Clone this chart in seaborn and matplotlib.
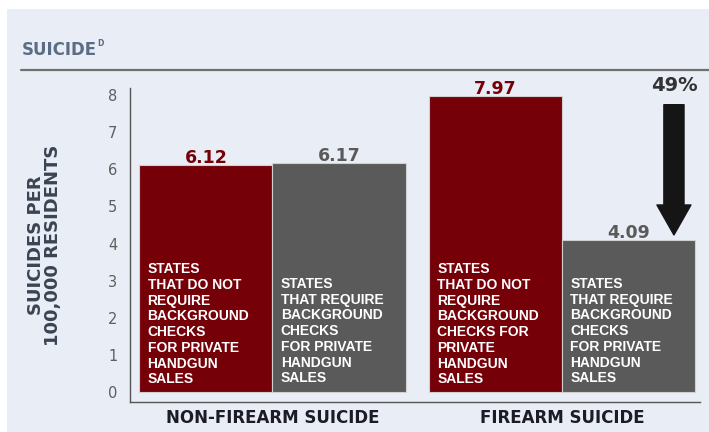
import matplotlib
matplotlib.use("Agg")
import matplotlib.pyplot as plt
import pandas as pd
import seaborn as sns
from matplotlib.patches import Rectangle

# Data
groups = ["NON-FIREARM SUICIDE", "FIREARM SUICIDE"]
policies = ["no_check", "check"]
values_no_check = [6.12, 7.97]
values_check = [6.17, 4.09]
value_labels = ["6.12", "6.17", "7.97", "4.09"]
bar_texts = [
    "STATES\nTHAT DO NOT\nREQUIRE\nBACKGROUND\nCHECKS\nFOR PRIVATE\nHANDGUN\nSALES",
    "STATES\nTHAT REQUIRE\nBACKGROUND\nCHECKS\nFOR PRIVATE\nHANDGUN\nSALES",
    "STATES\nTHAT DO NOT\nREQUIRE\nBACKGROUND\nCHECKS FOR\nPRIVATE\nHANDGUN\nSALES",
    "STATES\nTHAT REQUIRE\nBACKGROUND\nCHECKS\nFOR PRIVATE\nHANDGUN\nSALES",
]
drop_label = "49%"

df = pd.DataFrame({
    "group": groups * 2,
    "policy": [policies[0]] * 2 + [policies[1]] * 2,
    "value": values_no_check + values_check,
})

red = "#760007"
gray = "#5a5a5a"
panel = "#e9edf5"

sns.set_style("white")
plt.rcParams["font.family"] = ["DejaVu Sans"]

fig = plt.figure(figsize=(7.09, 4.32), dpi=100)
fig.patch.set_facecolor("white")
bg = Rectangle((7 / 709, 0), 1, (432 - 9) / 432, transform=fig.transFigure,
               facecolor=panel, edgecolor="none", zorder=-10)
fig.add_artist(bg)

ax = fig.add_axes([130 / 709, 30 / 432, 570 / 709, 314 / 432])
ax.set_facecolor("none")
sns.barplot(data=df, x="group", y="value", hue="policy", order=groups, hue_order=policies,
            palette={"no_check": red, "check": gray}, width=0.92, gap=0, saturation=1,
            edgecolor="#d0d0d0", linewidth=0.8, legend=False, ax=ax)

ax.set_xlim(-0.492, 1.477)
ax.set_ylim(-0.27, 8.19)
ax.set_yticks(range(0, 9))
ax.tick_params(axis="y", length=0, pad=9, labelsize=10.5, labelcolor="#5e5e5e")
ax.tick_params(axis="x", length=0, pad=5)
ax.set_xticks([0, 1])
ax.set_xticklabels(groups, fontsize=12, fontweight="bold", color="#1c1c28")
ax.set_xlabel("")
ax.set_ylabel("SUICIDES PER\n100,000 RESIDENTS", fontsize=13, fontweight="bold",
              color="#3a4452", labelpad=33, linespacing=0.92)
for s in ["top", "right"]:
    ax.spines[s].set_visible(False)
for s in ["left", "bottom"]:
    ax.spines[s].set_color("#555555")
    ax.spines[s].set_linewidth(1)

# bars in order: hue no_check (g0, g1), then check (g0, g1)
patches = sorted(ax.patches, key=lambda p: p.get_x())
label_colors = [red, gray, red, gray]
text_tops = [3.5, 3.1, 3.5, 3.1]
for p, lab, col, txt, top in zip(patches, value_labels, label_colors, bar_texts, text_tops):
    cx = p.get_x() + p.get_width() / 2
    ax.text(cx, p.get_height() - 0.06, lab, ha="center", va="bottom", fontsize=12.5,
            fontweight="bold", color=col)
    ax.annotate(txt, xy=(p.get_x(), top), xytext=(6, 0), textcoords="offset points",
                ha="left", va="top", fontsize=10, fontweight="bold", color="white",
                family=["Liberation Sans", "DejaVu Sans"], linespacing=1.16)

# arrow showing the drop
arrow_x = 1.387
ax.annotate("", xy=(arrow_x, 4.23), xytext=(arrow_x, 7.74),
            arrowprops=dict(arrowstyle="simple,head_length=2.16,head_width=2.45,tail_width=1.45",
                            mutation_scale=10, color="#151515", shrinkA=0, shrinkB=0))
ax.text(arrow_x, 8.0, drop_label, ha="center", va="bottom", fontsize=14, fontweight="bold",
        color="#333333", clip_on=False)

# header
fig.text(22 / 709, 1 - 50 / 432, "SUICIDE", ha="left", va="center", fontsize=12,
         fontweight="bold", color="#5b6d84")
fig.text(97 / 709, 1 - 43 / 432, "D", ha="left", va="center", fontsize=5.5,
         fontweight="bold", color="#5b6d84")
fig.add_artist(plt.Line2D([21 / 709, 1], [1 - 70 / 432, 1 - 70 / 432], transform=fig.transFigure,
                          color="#707070", linewidth=1.6))

fig.savefig("out.png", dpi=100, facecolor=fig.get_facecolor())
